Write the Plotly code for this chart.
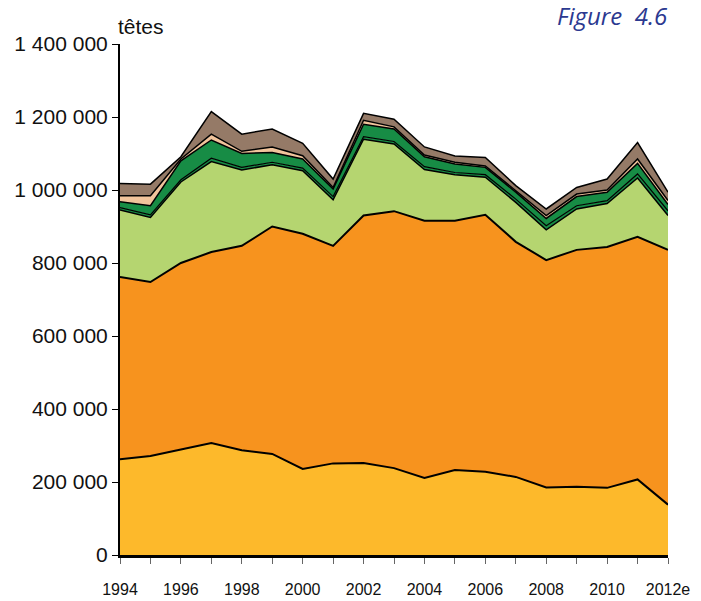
import plotly.graph_objects as go

years = list(range(1994, 2013))
year_labels = ["1994", "", "1996", "", "1998", "", "2000", "", "2002", "", "2004", "",
               "2006", "", "2008", "", "2010", "", "2012e"]

# stacked layers (heads), bottom to top
yellow = [262000, 271000, 289000, 307000, 287000, 277000, 236000, 251000, 252000, 238000,
          211000, 233000, 228000, 214000, 185000, 187000, 184000, 207000, 138000]
orange = [500000, 477000, 511000, 523000, 560000, 623000, 644000, 596000, 678000, 704000,
          705000, 683000, 704000, 644000, 623000, 649000, 660000, 665000, 698000]
light_green = [183000, 177000, 222000, 248000, 208000, 169000, 173000, 126000, 209000, 184000,
               140000, 126000, 103000, 108000, 83000, 112000, 119000, 161000, 94000]
thin_green = [7000, 7000, 6000, 9000, 7000, 7000, 7000, 9000, 7000, 7000,
              8000, 6000, 7000, 9000, 11000, 9000, 8000, 11000, 13000]
dark_green = [16000, 25000, 52000, 50000, 38000, 27000, 25000, 21000, 34000, 34000,
              27000, 23000, 20000, 19000, 20000, 25000, 23000, 29000, 17000]
peach = [16000, 27000, 5000, 16000, 6000, 15000, 9000, 4000, 11000, 6000,
         5000, 5000, 4000, 4000, 8000, 7000, 6000, 12000, 11000]
brown = [34000, 32000, 6000, 62000, 47000, 49000, 34000, 23000, 19000, 21000,
         22000, 17000, 23000, 14000, 18000, 18000, 30000, 45000, 23000]

y_ticks = [0, 200000, 400000, 600000, 800000, 1000000, 1200000, 1400000]
y_tick_labels = ["0", "200 000", "400 000", "600 000", "800 000", "1 000 000", "1 200 000", "1 400 000"]

layers = [
    (yellow, "#FDB92B", 2),
    (orange, "#F7931E", 2),
    (light_green, "#B5D570", 1.5),
    (thin_green, "#178C45", 1.2),
    (dark_green, "#178C45", 1.5),
    (peach, "#F1C49C", 1.5),
    (brown, "#957A67", 1.5),
]

fig = go.Figure()
for vals, col, lw in layers:
    fig.add_trace(go.Scatter(
        x=years, y=vals, mode="lines", stackgroup="one",
        line=dict(color="black", width=lw), fillcolor=col,
        hoverinfo="skip", showlegend=False,
    ))

font_fam = "Liberation Sans, Arial, sans-serif"

fig.update_layout(
    width=701, height=601,
    margin=dict(l=120, r=33, t=44, b=46),
    paper_bgcolor="white", plot_bgcolor="white",
    font=dict(family=font_fam, size=20, color="#111"),
    xaxis=dict(
        range=[1994, 2012], tickmode="array", tickvals=years, ticktext=year_labels,
        showgrid=False, zeroline=False, showline=True, linecolor="black", linewidth=3,
        ticks="outside", ticklen=6, tickcolor="#666", tickwidth=1,
        ticklabelstandoff=12, tickfont=dict(size=16, family=font_fam),
        automargin=False,
    ),
    yaxis=dict(
        range=[0, 1400000], tickmode="array", tickvals=y_ticks, ticktext=y_tick_labels,
        showgrid=False, zeroline=False, showline=True, linecolor="black", linewidth=2,
        ticks="outside", ticklen=6, tickcolor="black", tickwidth=1,
        tickfont=dict(size=21, family=font_fam), automargin=False,
    ),
    annotations=[
        dict(text="têtes", xref="paper", yref="paper", x=0, y=1, xanchor="left",
             yanchor="bottom", xshift=-4, yshift=4, showarrow=False,
             font=dict(size=21, family=font_fam, color="#111")),
        dict(text="<i>Figure  4.6</i>", xref="paper", yref="paper", x=1, y=1,
             xanchor="right", yanchor="bottom", xshift=2, yshift=10, showarrow=False,
             font=dict(size=24, family="Open Sans, sans-serif", color="#2B3990")),
    ],
)

fig.write_html("out.html", config={"displayModeBar": False},
               post_script="document.body.style.margin='0px';document.body.style.overflow='hidden';")
